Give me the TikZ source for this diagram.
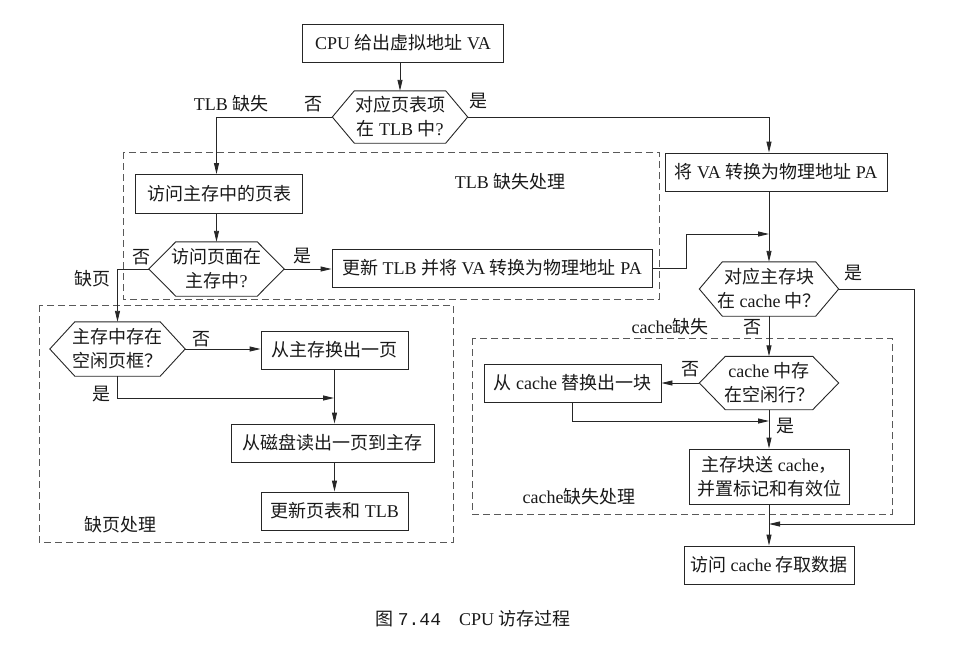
\documentclass[tikz,border=0pt]{standalone}
\usepackage{fontspec}
\setmainfont{Liberation Serif}
\newfontfamily\cjkf{Noto Sans CJK SC}
\newfontfamily\monof{Liberation Mono}
\newcommand\zh[1]{{\cjkf #1}}
\usetikzlibrary{arrows.meta}
\newcommand\hexa[2]{\draw[conn] (#1.west) -- ([xshift=#2]#1.north west) -- ([xshift=-#2]#1.north east) -- (#1.east) -- ([xshift=-#2]#1.south east) -- ([xshift=#2]#1.south west) -- cycle;}
\begin{document}
\begin{tikzpicture}[x=1pt,y=-1pt,
  every node/.style={font=\fontsize{18}{24}\selectfont, inner sep=0pt, text=black!90},
  box/.style={draw=black!85, line width=0.9pt, align=center, minimum height=38pt},
  hexn/.style={align=center, minimum height=54pt},
  conn/.style={draw=black!85, line width=0.9pt},
  arr/.style={conn, -{Triangle[length=11pt,width=5pt]}},
  grp/.style={draw=black!65, line width=0.9pt, dash pattern=on 7pt off 4pt},
]
\useasboundingbox (0,0) rectangle (968,654);

% group frames
\draw[grp] (123,152) rectangle (659,299);
\draw[grp] (39,305) rectangle (453,542);
\draw[grp] (472,338) rectangle (892,514);

% nodes
\node[box, minimum width=201pt] (b1) at (403,43) {CPU \zh{给出虚拟地址} VA};
\node[hexn, minimum width=135pt, minimum height=52pt] (h1) at (400,117) {\zh{对应页表项}\\\zh{在} TLB \zh{中}?};
\node[box, minimum width=222pt] (b2) at (776,172) {\zh{将} VA \zh{转换为物理地址} PA};
\node[box, minimum width=167pt, minimum height=39pt] (b3) at (219,194) {\zh{访问主存中的页表}};
\node[hexn, minimum width=135pt] (h2) at (216.5,269) {\zh{访问页面在}\\\zh{主存中}?};
\node[box, minimum width=320pt] (b4) at (492,268) {\zh{更新} TLB \zh{并将} VA \zh{转换为物理地址} PA};
\node[hexn, minimum width=139pt] (h3) at (769,289) {\zh{对应主存块}\\\zh{在} cache \zh{中？}};
\node[hexn, minimum width=139pt, minimum height=53pt] (h4) at (769,383) {cache \zh{中存}\\\zh{在空闲行？}};
\node[box, minimum width=177pt] (b5) at (572.5,383) {\zh{从} cache \zh{替换出一块}};
\node[box, minimum width=160pt, minimum height=55pt] (b6) at (769,476.5) {\zh{主存块送} cache\zh{，}\\\zh{并置标记和有效位}};
\node[box, minimum width=170pt] (b7) at (769,565) {\zh{访问} cache \zh{存取数据}};
\node[hexn, minimum width=135pt] (h5) at (117.5,349) {\zh{主存中存在}\\\zh{空闲页框？}};
\node[box, minimum width=147pt] (b8) at (334.5,350) {\zh{从主存换出一页}};
\node[box, minimum width=203pt] (b9) at (332.5,443) {\zh{从磁盘读出一页到主存}};
\node[box, minimum width=147pt] (b10) at (334.5,511) {\zh{更新页表和} TLB};

\hexa{h1}{22pt}
\hexa{h2}{27pt}
\hexa{h3}{23pt}
\hexa{h4}{26pt}
\hexa{h5}{25pt}

% labels
\node (l1) at (231,104) {TLB \zh{缺失}};
\node (l2) at (313,104) {\zh{否}};
\node (l3) at (478,101) {\zh{是}};
\node (l4) at (510,182) {TLB \zh{缺失处理}};
\node (l5) at (141,257) {\zh{否}};
\node (l6) at (92,279) {\zh{缺页}};
\node (l7) at (302,256) {\zh{是}};
\node (l8) at (853,273) {\zh{是}};
\node (l9) at (752,327) {\zh{否}};
\node (l10) at (670,327) {cache\zh{缺失}};
\node (l11) at (690,369) {\zh{否}};
\node (l12) at (785,426) {\zh{是}};
\node (l13) at (579,497) {cache\zh{缺失处理}};
\node (l14) at (201,339) {\zh{否}};
\node (l15) at (101,394) {\zh{是}};
\node (l16) at (120,525) {\zh{缺页处理}};
\node (cap) at (473,619) {\zh{图} {\monof 7.44}\quad CPU \zh{访存过程}};

% helper coordinates
\coordinate (k1) at (686,234);
\coordinate (k2) at (914,524);
\coordinate (k3) at (769,421);
\coordinate (k4) at (334,398);

% connectors
\draw[arr] (b1.south -| h1.north) -- (h1.north);
\draw[arr] (h1.west) -| (b3.north -| h2.north);
\draw[arr] (h1.east) -| (b2.north -| h3.north);
\draw[arr] (b3.south -| h2.north) -- (h2.north);
\draw[arr] (h2.east) -- (h2.east -| b4.west);
\draw[arr] (b4.east) -| (k1) -- (k1 -| h3.north);
\draw[arr] (b2.south -| h3.north) -- (h3.north);
\draw[arr] (h3.east) -| (k2) -- (k2 -| b7.north);
\draw[arr] (h3.south) -- (h4.north);
\draw[arr] (h4.west) -- (h4.west -| b5.east);
\draw[arr] (b5.south) |- (k3);
\draw[arr] (h4.south) -- (b6.north);
\draw[arr] (b6.south) -- (b7.north);
\draw[arr] (h2.west) -| (h5.north);
\draw[arr] (h5.east) -- (h5.east -| b8.west);
\draw[arr] (h5.south) |- (k4);
\draw[arr] (b8.south) -- (b8.south |- b9.north);
\draw[arr] (b9.south -| b10.north) -- (b10.north);
\end{tikzpicture}
\end{document}
